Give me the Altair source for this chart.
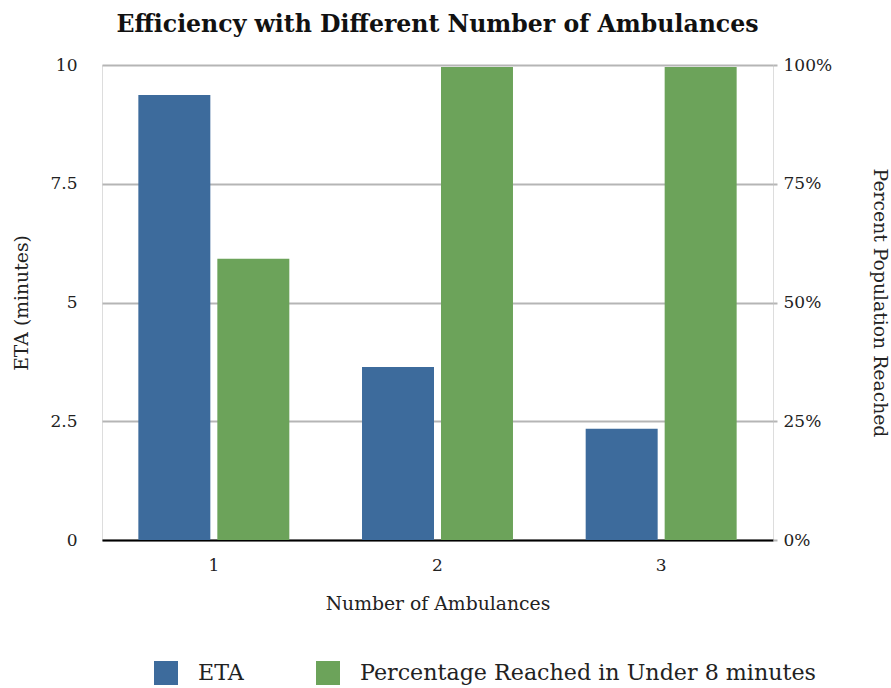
import altair as alt
import pandas as pd

# Data
ambulances = ["1", "2", "3"]
eta_minutes = [9.37, 3.64, 2.34]
pct_reached = [59.2, 99.6, 99.6]
series = ["ETA", "Percentage Reached in Under 8 minutes"]
colors = ["#3d6b9c", "#6ca35a"]

eta_df = pd.DataFrame({"n": ambulances, "series": series[0], "eta": eta_minutes})
pct_df = pd.DataFrame({"n": ambulances, "series": series[1], "pct": pct_reached})

FONT = "DejaVu Serif"
TXT = "#222222"

x = alt.X(
    "n:N",
    title="Number of Ambulances",
    scale=alt.Scale(paddingInner=0.325, paddingOuter=0.1625),
    axis=alt.Axis(
        labelAngle=0, ticks=False, domain=True, domainColor="black",
        domainWidth=2, labelFontSize=17, titleFontSize=18.8,
        labelPadding=17, titlePadding=21, labelFont=FONT, titleFont=FONT,
        labelColor=TXT, titleColor=TXT, titleFontWeight="normal",
    ),
)
xoff = alt.XOffset(
    "series:N",
    scale=alt.Scale(domain=series, paddingInner=0.0886, paddingOuter=0),
)
color = alt.Color(
    "series:N",
    scale=alt.Scale(domain=series, range=colors),
    legend=alt.Legend(
        title=None, orient="none", legendX=52, legendY=596,
        direction="horizontal", symbolType="square", symbolSize=576,
        symbolStrokeWidth=0, symbolOpacity=1, labelFontSize=22.2, labelFont=FONT,
        labelColor=TXT, labelOffset=20, columnPadding=72,
        labelLimit=600,
    ),
)

eta_bars = alt.Chart(eta_df).mark_bar().encode(
    x=x,
    xOffset=xoff,
    color=color,
    y=alt.Y(
        "eta:Q",
        title="ETA (minutes)",
        scale=alt.Scale(domain=[0, 10], nice=False),
        axis=alt.Axis(
            orient="left", values=[0, 2.5, 5, 7.5, 10], labelExpr="datum.value",
            grid=True, gridColor="#b5b5b5", gridWidth=2, domain=False,
            ticks=False, labelPadding=25, labelFontSize=17, titleFontSize=18.8,
            labelFont=FONT, titleFont=FONT, labelColor=TXT,
            titleColor=TXT, titleFontWeight="normal", titlePadding=18,
        ),
    ),
)

pct_bars = alt.Chart(pct_df).mark_bar().encode(
    x=x,
    xOffset=xoff,
    color=color,
    y=alt.Y(
        "pct:Q",
        title="Percent Population Reached",
        scale=alt.Scale(domain=[0, 100], nice=False),
        axis=alt.Axis(
            orient="right", values=[0, 25, 50, 75, 100],
            labelExpr="datum.value + '%'", grid=False, domain=False,
            ticks=True, tickColor="#b5b5b5", tickWidth=2, tickSize=4,
            labelPadding=6, labelFontSize=17, titleFontSize=18.8,
            labelFont=FONT, titleFont=FONT, labelColor=TXT,
            titleColor=TXT, titleFontWeight="normal", titlePadding=38,
        ),
    ),
)

chart = (
    alt.layer(eta_bars, pct_bars)
    .resolve_scale(y="independent")
    .properties(
        width=671,
        height=475,
        autosize="none",
        padding={"left": 102, "top": 65, "right": 118, "bottom": 148},
        title=alt.TitleParams(
            "Efficiency with Different Number of Ambulances",
            font=FONT, fontSize=23.6, fontWeight="bold", anchor="middle",
            color="#111111", offset=19,
        ),
    )
    .configure_view(stroke=None)
    .configure(background="white")
)

chart.save("out.html", embed_options={"renderer": "svg", "actions": False})
